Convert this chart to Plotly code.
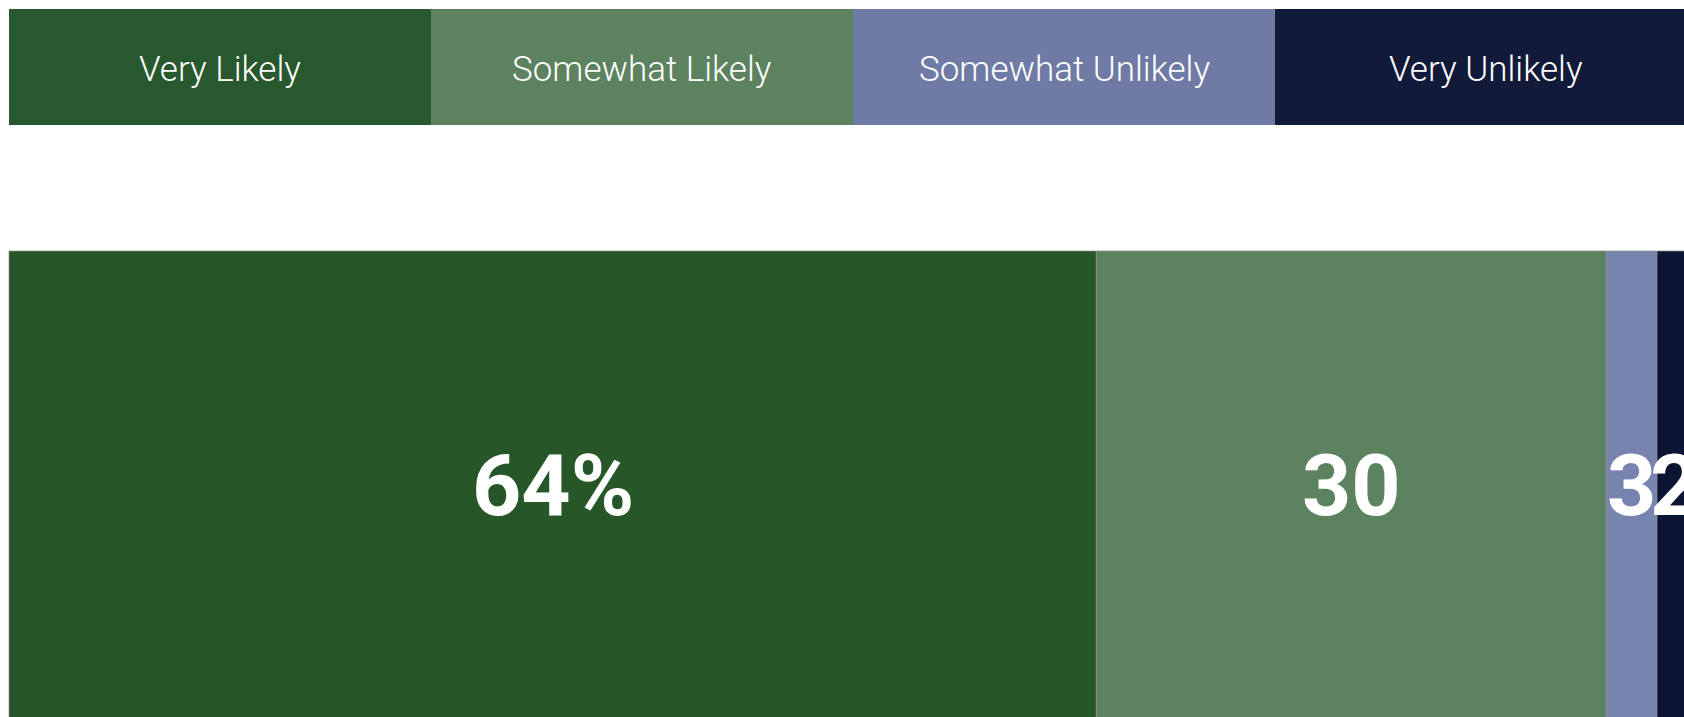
import plotly.graph_objects as go

# ---- data ----
categories = ["Very Likely", "Somewhat Likely", "Somewhat Unlikely", "Very Unlikely"]
values = [64, 30, 3, 2]
value_labels = ["64%", "30", "3", "2"]
bar_colors = ["#275728", "#5d8260", "#7884b0", "#0b1533"]
legend_colors = ["#28582d", "#5d8260", "#707ba5", "#121a3a"]

# ---- layout constants (pixels, figure coordinates) ----
W, H = 1684, 717
left_px = 9
px_per_unit = 16.99
legend_box_px = 422
legend_top, legend_bottom = 9, 125
bar_top, bar_bottom = 251, 722
label_center_px = 485

legend_width = legend_box_px / px_per_unit

fig = go.Figure()

legend_y = H - (legend_top + legend_bottom) / 2
bar_y = H - (bar_top + bar_bottom) / 2

# legend row: equal-width boxes
for i, (cat, col) in enumerate(zip(categories, legend_colors)):
    fig.add_trace(go.Bar(
        orientation="h",
        x=[legend_width],
        y=[legend_y],
        width=[legend_bottom - legend_top],
        base=[i * legend_width],
        marker=dict(color=col, line=dict(width=0)),
        hoverinfo="skip",
        showlegend=False,
    ))
    fig.add_annotation(
        x=i * legend_width + legend_width / 2, y=legend_y - 2,
        xref="x", yref="y", text=cat, showarrow=False,
        xanchor="center", yanchor="middle",
        font=dict(family="Roboto", size=35, color="#ffffff", weight=300),
    )

# data bar: stacked segments
cum = 0
for cat, v, lab, col in zip(categories, values, value_labels, bar_colors):
    fig.add_trace(go.Bar(
        orientation="h",
        name=cat,
        x=[v],
        base=[cum],
        y=[bar_y],
        width=[bar_bottom - bar_top],
        marker=dict(color=col, line=dict(width=1, color="rgba(140,140,140,0.7)")),
        hoverinfo="skip",
        showlegend=False,
    ))
    fig.add_annotation(
        x=cum + v / 2, y=H - label_center_px,
        xref="x", yref="y", text=lab, showarrow=False,
        xanchor="center", yanchor="middle",
        font=dict(family="Roboto", size=86, color="#ffffff", weight=700),
    )
    cum += v

fig.update_layout(
    width=W, height=H,
    margin=dict(l=0, r=0, t=0, b=0),
    paper_bgcolor="white",
    plot_bgcolor="white",
    barmode="overlay",
    xaxis=dict(range=[-left_px / px_per_unit, (W - left_px) / px_per_unit],
               visible=False, fixedrange=True),
    yaxis=dict(range=[0, H], visible=False, fixedrange=True),
)

fig.write_html(
    "out.html",
    config={"displayModeBar": False},
    post_script="document.body.style.margin='0';"
                "document.documentElement.style.overflow='hidden';",
)
